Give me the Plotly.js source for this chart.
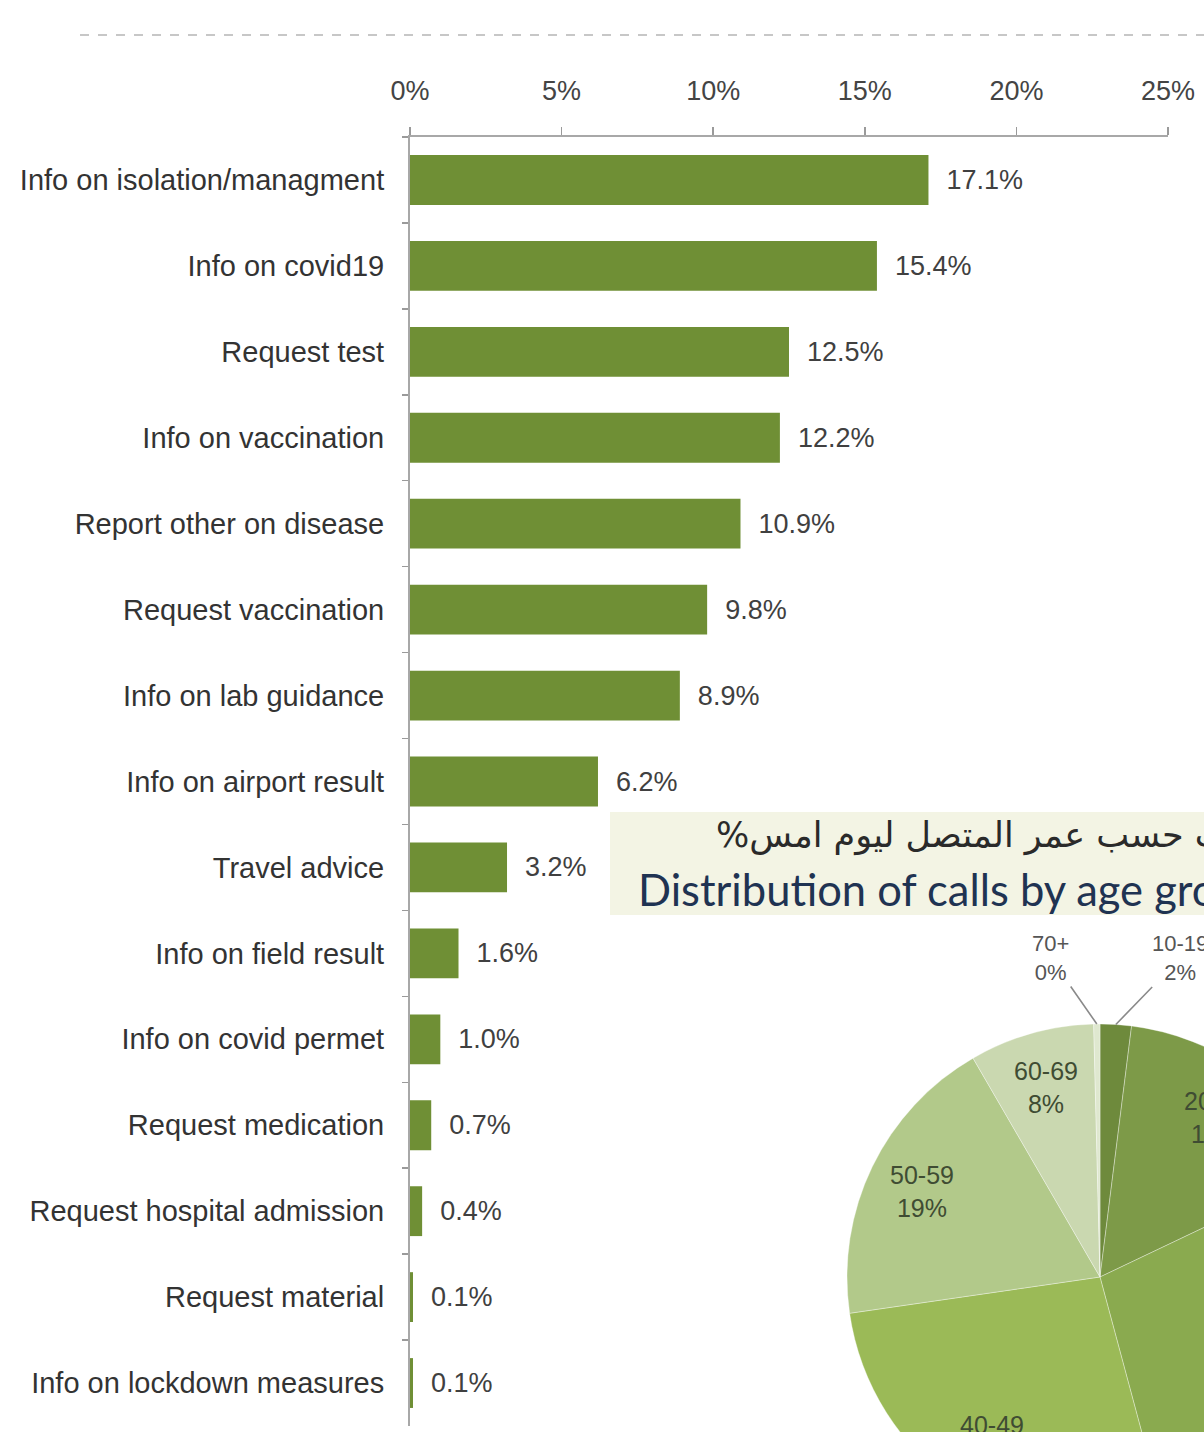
<!DOCTYPE html>
<html>
<head>
<meta charset="utf-8">
<script src="https://cdn.plot.ly/plotly-3.0.1.min.js"></script>
<style>
  html, body { margin: 0; padding: 0; overflow: hidden; background: #fff; }
  #wrap { width: 1204px; height: 1432px; overflow: hidden; position: relative; }
  #chart { width: 1400px; height: 1560px; }
</style>
</head>
<body>
<div id="wrap"><div id="chart"></div></div>
<script>
// ---- Bar chart data (share of calls by reason, %) ----
const categories = [
  "Info on isolation/managment",
  "Info on covid19",
  "Request test",
  "Info on vaccination",
  "Report other on disease",
  "Request vaccination",
  "Info on lab guidance",
  "Info on airport result",
  "Travel advice",
  "Info on field result",
  "Info on covid permet",
  "Request medication",
  "Request hospital admission",
  "Request material",
  "Info on lockdown measures"
];
const shares = [17.1, 15.4, 12.5, 12.2, 10.9, 9.8, 8.9, 6.2, 3.2, 1.6, 1.0, 0.7, 0.4, 0.1, 0.1];
const xTickVals = [0, 5, 10, 15, 20, 25];

// ---- Pie chart data (calls by age group, %) ----
const ageGroups = ["10-19", "20-29", "30-39", "40-49", "50-59", "60-69", "70+"];
const ageShares = [2, 16, 28, 27, 19, 8, 0.4];
const ageLabels = ["2%", "16%", "28%", "27%", "19%", "8%", "0%"];
const ageColors = ["#6e8a3c", "#7d9a48", "#8aaa4f", "#9bba57", "#b2c98a", "#cad8b0", "#dfe8cf"];
const outsideGroups = ["10-19", "70+"];

const titleEn = "Distribution of calls by age group";
const titleAr = "توزيع الاتصالات حسب عمر المتصل ليوم امس%\u200F";

// ---- layout geometry (pixels in a 1400x1560 canvas, viewport shows 1204x1432) ----
const W = 1400, H = 1560;
const px = v => v / W;
const py = v => 1 - v / H;

const pieCx = 1100, pieCy = 1277, pieR = 253;

const barTrace = {
  type: "bar",
  orientation: "h",
  y: categories,
  x: shares,
  marker: { color: "#6f8f35" },
  text: shares.map(v => "\u00a0\u00a0" + v.toFixed(1) + "%"),
  textposition: "outside",
  textfont: { size: 27, color: "#404040" },
  constraintext: "none",
  cliponaxis: false,
  hoverinfo: "skip",
  xaxis: "x", yaxis: "y"
};

const pieTrace = {
  type: "pie",
  labels: ageGroups,
  values: ageShares,
  sort: false,
  direction: "clockwise",
  rotation: 0,
  textinfo: "none",
  marker: { colors: ageColors, line: { color: "rgba(255,255,255,0.35)", width: 1 } },
  domain: { x: [px(pieCx - pieR), px(pieCx + pieR)], y: [py(pieCy + pieR), py(pieCy - pieR)] },
  hoverinfo: "skip",
  showlegend: false
};

// pie labels computed from the data
const total = ageShares.reduce((a, b) => a + b, 0);
const pieAnn = [];
let cum = 0;
ageGroups.forEach((g, i) => {
  const mid = (cum + ageShares[i] / 2) / total * 2 * Math.PI; // clockwise from top
  cum += ageShares[i];
  const txt = g + "<br>" + ageLabels[i];
  if (outsideGroups.includes(g)) {
    const ex = pieCx + pieR * Math.sin(mid), ey = pieCy - pieR * Math.cos(mid);
    const left = i === ageGroups.length - 1;
    pieAnn.push({
      x: px(ex), y: py(ey), xref: "paper", yref: "paper",
      text: txt, showarrow: true, arrowhead: 0, arrowwidth: 1.6, arrowcolor: "#8a8a8a",
      ax: left ? -46 : 64, ay: -66, standoff: 0,
      font: { size: 22, color: "#555" }, align: "center"
    });
  } else {
    const rl = 0.78 * pieR;
    const lx = pieCx + rl * Math.sin(mid), ly = pieCy - rl * Math.cos(mid);
    pieAnn.push({
      x: px(lx), y: py(ly), xref: "paper", yref: "paper",
      xanchor: "center", yanchor: "middle",
      text: txt, showarrow: false, font: { size: 25, color: "#3f4c33" }, align: "center"
    });
  }
});

const layout = {
  width: W, height: H,
  margin: { l: 0, r: 0, t: 0, b: 0 },
  paper_bgcolor: "#ffffff", plot_bgcolor: "rgba(0,0,0,0)",
  font: { family: "Liberation Sans, Arial, sans-serif", color: "#333" },
  showlegend: false,
  bargap: 0.42,
  xaxis: {
    domain: [px(410), px(1168)],
    side: "top",
    range: [0, 25],
    tickvals: xTickVals,
    ticktext: xTickVals.map(v => v + "%"),
    ticks: "outside", ticklen: 8, tickwidth: 1.5, tickcolor: "#9a9a9a",
    showline: true, linecolor: "#a8a8a8", linewidth: 2,
    showgrid: false, zeroline: false,
    tickfont: { size: 27, color: "#444" },
    ticklabelstandoff: 16,
    fixedrange: true
  },
  yaxis: {
    domain: [py(1426), py(137)],
    type: "category",
    autorange: "reversed",
    showline: true, linecolor: "#a8a8a8", linewidth: 2,
    ticks: "outside", ticklen: 6, tickwidth: 1.5, tickcolor: "#9a9a9a",
    tickson: "boundaries",
    showgrid: false, zeroline: false,
    tickfont: { size: 29, color: "#333" },
    ticklabelstandoff: 18,
    fixedrange: true
  },
  shapes: [
    { type: "line", xref: "paper", yref: "paper", x0: px(80), x1: 1, y0: py(35), y1: py(35),
      line: { color: "#b5b5b5", width: 1.5, dash: "dash" } },
    { type: "rect", xref: "paper", yref: "paper", x0: px(610), x1: 1, y0: py(915), y1: py(812),
      fillcolor: "#f3f4e4", line: { width: 0 }, layer: "below" }
  ],
  annotations: [
    { xref: "paper", yref: "paper", x: px(714), y: py(835), xanchor: "left", yanchor: "middle",
      text: titleAr, showarrow: false, font: { family: "DejaVu Sans, Noto Sans, sans-serif", size: 35, color: "#2a2a2a" } },
    { xref: "paper", yref: "paper", x: px(636), y: py(889), xanchor: "left", yanchor: "middle",
      text: titleEn, showarrow: false, font: { family: "Lato, Liberation Sans, sans-serif", size: 43.5, color: "#1f3352" } }
  ].concat(pieAnn)
};

Plotly.newPlot("chart", [barTrace, pieTrace], layout, { staticPlot: true, displayModeBar: false });
</script>
</body>
</html>
